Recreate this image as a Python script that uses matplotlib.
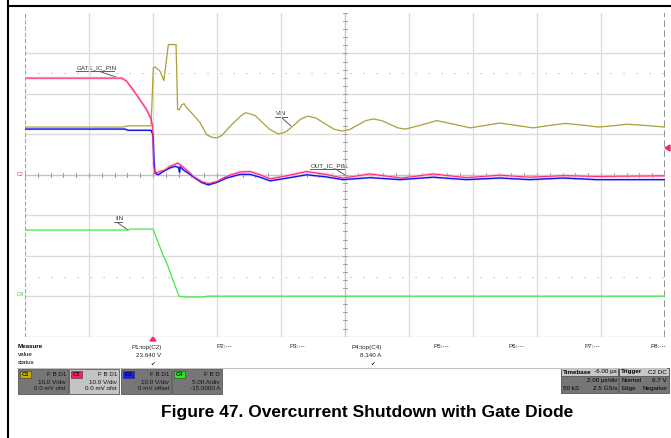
import numpy as np
import matplotlib.pyplot as plt
from matplotlib.patches import Rectangle, Polygon

plt.rcParams['font.family'] = ['Liberation Sans', 'DejaVu Sans']

# time in microseconds, trigger at t = 0 (2 us/div, 10 div)
t_vin = [-4.0, -0.94, -0.78, -0.06, 0.01, 0.06, 0.22, 0.34, 0.48, 0.72, 0.77, 0.82, 0.90, 0.97,
         1.05, 1.25, 1.47, 1.68, 1.83, 1.99, 2.15, 2.41, 2.72, 2.88, 3.03, 3.2, 3.41, 3.65, 3.92,
         4.15, 4.38, 4.62, 4.85, 5.1, 5.38, 5.65, 5.90, 6.15, 6.4, 6.65, 6.88, 7.15, 7.4, 7.65,
         7.88, 8.38, 8.87, 9.4, 9.91, 10.38, 10.84, 11.36, 11.88, 12.38, 12.88, 13.4, 13.92,
         14.36, 14.80, 15.4, 16.0]
vin = [11.8, 11.8, 12.1, 12.1, 26.4, 26.7, 25.6, 23.3, 32.2, 32.2, 16.1, 16.1, 17.3, 17.6,
       16.6, 14.9, 12.9, 9.9, 9.3, 9.1, 9.7, 12.0, 14.4, 15.3, 15.1, 14.6, 13.0, 11.2, 10.1,
       10.6, 12.1, 13.8, 14.5, 14.0, 12.6, 11.3, 10.8, 11.2, 12.3, 13.4, 13.8, 13.4, 12.5, 11.6,
       11.3, 12.3, 13.4, 12.5, 11.6, 12.2, 12.8, 12.2, 11.6, 12.2, 12.7, 12.3, 11.8,
       12.1, 12.5, 12.2, 11.8]

t_gate = [-4.0, -0.97, -0.82, -0.62, -0.41, -0.20, -0.06, -0.01, 0.02, 0.06, 0.22, 0.38, 0.53,
          0.69, 0.77, 0.90, 1.05, 1.26, 1.52, 1.73, 1.99, 2.30, 2.72, 3.03, 3.35, 3.66, 4.2, 4.80,
          5.4, 5.94, 6.78, 7.77, 8.75, 9.80, 10.84, 11.78, 12.81, 13.87, 16.0]
gate = [23.9, 23.9, 23.1, 21.0, 18.6, 16.1, 13.8, 12.0, 2.5, 0.4, 0.8, 1.2, 2.1,
        2.6, 2.9, 2.2, 1.2, -0.4, -1.7, -2.2, -1.7, -0.4, 0.7, 0.8, 0.0, -1.0, -0.2, 0.8,
        0.1, -0.8, 0.2, -0.8, 0.2, -0.7, -0.1, -0.6, -0.2, -0.4, -0.25]

t_out = [-4.0, -0.88, -0.78, -0.06, 0.0, 0.03, 0.06, 0.16, 0.32, 0.53, 0.69, 0.80, 0.83, 0.85,
         0.95, 1.10, 1.31, 1.52, 1.73, 1.99, 2.30, 2.72, 3.03, 3.35, 3.66, 4.2, 4.80, 5.4, 5.94,
         6.78, 7.72, 8.75, 9.80, 10.84, 11.78, 12.81, 13.87, 16.0]
vout = [11.3, 11.3, 11.0, 11.0, 9.9, 3.7, 0.4, 0.0, 0.8, 1.7, 2.1, 1.8, 0.6, 2.0,
        1.2, 0.4, -0.8, -1.9, -2.5, -1.9, -0.8, 0.1, 0.1, -0.6, -1.5, -0.8, 0.0, -0.5, -1.2,
        -0.7, -1.2, -0.6, -1.2, -0.8, -1.2, -0.8, -1.2, -1.2]

t_iin = [-4.0, -0.78, -0.72, 0.0, 0.32, 0.42, 0.81, 1.0, 1.6, 1.7, 16.0]
iin = [8.17, 8.17, 8.29, 8.29, 5.0, 4.2, 0.0, -0.1, -0.1, 0.0, 0.0]

# channel settings: scale per div and offset
scale = {'C1': 10.0, 'C2': 10.0, 'C3': 10.0, 'C4': 5.0}
offset = {'C1': 0.0, 'C2': 0.0, 'C3': 0.0, 'C4': -15.0}


def to_div(vals, ch):
    return (np.array(vals) + offset[ch]) / scale[ch]


W, H = 671, 438
fig = plt.figure(figsize=(W / 100, H / 100), dpi=100)

# overlay in pixel coordinates for the frame and scope panels
ov = fig.add_axes([0, 0, 1, 1])
ov.set_xlim(0, W)
ov.set_ylim(H, 0)
ov.axis('off')

ax = fig.add_axes([25 / W, 1 - 337 / H, 640 / W, 324 / H])
ax.set_xlim(-4, 16)
ax.set_ylim(-4.01, 4.0)
ax.axis('off')

# grid
for k in range(1, 10):
    ax.axvline(-4 + 2 * k, color='#c4c4c4' if k == 5 else '#dcdcdc', lw=1, zorder=1)
for k in range(-3, 4):
    ax.axhline(k, color='#c4c4c4' if k == 0 else '#dcdcdc', lw=1, zorder=1)
ax.axhline(-4.0, color='#cfcfcf', lw=1, zorder=1)
ax.axvline(-4, color='#a0a0a0', lw=1.5, ls=(0, (2, 1)), zorder=1)
ax.axvline(16, color='#808080', lw=1.2, ls=(0, (4, 2)), zorder=1)
for yv in (2.52, -2.52):
    ax.plot([-3.6, 16], [yv, yv], color='#b0b0b0', lw=0.8, ls=(0, (1, 10.7)), zorder=1)
for xv in np.arange(-4, 16.01, 0.4):
    ax.plot([xv, xv], [-0.05, 0.05], color='#a0a0a0', lw=0.7, zorder=1)
for yv in np.arange(-4, 4.01, 0.2):
    ax.plot([5.94, 6.06], [yv, yv], color='#a0a0a0', lw=0.7, zorder=1)

# traces
ax.plot(t_gate, to_div(gate, 'C2'), color='#ffb4d0', lw=1.8, zorder=2)
ax.plot(t_out, to_div(vout, 'C3'), color='#b4b4ff', lw=1.5, zorder=2)
ax.plot(t_vin, to_div(vin, 'C1'), color='#aaa038', lw=0.9, zorder=3)
ax.plot(t_gate, to_div(gate, 'C2'), color='#ff2070', lw=0.7, zorder=4)
ax.plot(t_out, to_div(vout, 'C3'), color='#1010ee', lw=0.9, zorder=3)
ax.plot(t_iin, to_div(iin, 'C4'), color='#44e844', lw=0.9, zorder=3)

# frame of the document figure
ov.plot([8, 8], [0, H], color='black', lw=1.5)
ov.plot([8, W], [6, 6], color='black', lw=1.5)

# trace labels with leader lines
labels = [('GATE_IC_PIN', 77, 70, 114, (101, 72), (122, 79)),
          ('VIN', 276, 116, 287, (282, 118), (291, 126)),
          ('OUT_IC_PIN', 311, 168, 345, (337, 170), (350, 178)),
          ('IIN', 115, 221, 122, (118, 223), (128, 230))]
for txt, x0, y0, x1, p0, p1 in labels:
    ov.text(x0, y0, txt, fontsize=4.5, color='#333333', va='bottom', ha='left', zorder=6)
    ov.plot([x0 - 1, x1], [y0 + 1, y0 + 1], color='#444444', lw=0.6, zorder=6)
    ov.plot([p0[0], p1[0]], [p0[1], p1[1]], color='#444444', lw=0.6, zorder=6)

# channel ground markers and trigger markers
ov.text(24, 175, 'C2', fontsize=4, color='#ff2070', ha='right', va='center')
ov.text(24, 295, 'C4', fontsize=4, color='#30d030', ha='right', va='center')
ov.add_patch(Polygon([(665, 148), (670, 145), (670, 151)], color='#ff2070', zorder=6))
ov.add_patch(Polygon([(150, 341), (156, 341), (153, 337)], color='#ff2070', zorder=6))

# measurement table
fs = 4.5
ov.text(18, 347, 'Measure', fontsize=fs, fontweight='bold', va='center')
ov.text(18, 355, 'value', fontsize=fs, va='center')
ov.text(18, 363, 'status', fontsize=fs, va='center')
params = ['P1:top(C2)', 'P2:---', 'P3:---', 'P4:top(C4)', 'P5:---', 'P6:---', 'P7:---', 'P8:---']
values = ['23.640 V', '', '', '8.140 A', '', '', '', '']
param_x = [162, 232, 305, 382, 449, 524, 600, 666]
for p, v, px in zip(params, values, param_x):
    ov.text(px, 347, p, fontsize=fs, ha='right', va='center', color='#222222')
    if v:
        ov.text(px - 1, 355.5, v, fontsize=fs, ha='right', va='center', color='#222222')
        ov.text(px - 9, 364, '\u2714', fontsize=4, ha='center', va='center',
                family='DejaVu Sans', color='#222222')
ov.plot([17, 666], [368, 368], color='#c0c0c0', lw=0.8)

# channel boxes
channels = ['C1', 'C2', 'C3', 'C4']
tag_colors = ['#c8b400', '#ff1a6a', '#1a1aff', '#22ee22']
flags = ['F B D1', 'F B D1', 'F B D1', 'F B D']
vdiv_txt = ['10.0 V/div', '10.0 V/div', '10.0 V/div', '5.00 A/div']
ofs_txt = ['0.0 mV ofst', '0.0 mV ofst', '0 mV offset', '-15.0000 A']
box_x = [18, 69, 121, 172]
for ch, col, fl, vd, of, bx in zip(channels, tag_colors, flags, vdiv_txt, ofs_txt, box_x):
    face = '#c4c4c4' if ch == 'C2' else '#767676'
    ov.add_patch(Rectangle((bx, 369), 50, 24.5, facecolor=face, edgecolor='#555555', lw=0.6))
    ov.add_patch(Rectangle((bx + 2, 370.5), 11, 7, facecolor=col, edgecolor='#333333', lw=0.4))
    ov.text(bx + 7.5, 374, ch, fontsize=4.2, fontweight='bold', ha='center', va='center',
            color='#111111')
    ov.text(bx + 48, 374, fl, fontsize=fs, ha='right', va='center', color='#111111')
    ov.text(bx + 48, 382, vd, fontsize=fs, ha='right', va='center', color='#111111')
    ov.text(bx + 48, 389, of, fontsize=fs, ha='right', va='center', color='#111111')

# timebase and trigger boxes
for bx, bw in ((561, 57), (619, 50)):
    ov.add_patch(Rectangle((bx, 368), bw, 25, facecolor='#767676', edgecolor='#555555', lw=0.6))
    ov.add_patch(Rectangle((bx, 368), bw, 8, facecolor='#c8c8c8', edgecolor='#555555', lw=0.6))
ov.text(563, 372, 'Timebase', fontsize=fs, fontweight='bold', va='center')
ov.text(617, 372, '-6.00 \u00b5s', fontsize=fs, ha='right', va='center')
ov.text(617, 380.5, '2.00 \u00b5s/div', fontsize=fs, ha='right', va='center')
ov.text(563, 388.5, '50 kS', fontsize=fs, va='center')
ov.text(617, 388.5, '2.5 GS/s', fontsize=fs, ha='right', va='center')
ov.text(621, 372, 'Trigger', fontsize=fs, fontweight='bold', va='center')
ov.text(667, 372, 'C2 DC', fontsize=fs, ha='right', va='center')
ov.text(621, 380.5, 'Normal', fontsize=fs, va='center')
ov.text(667, 380.5, '6.7 V', fontsize=fs, ha='right', va='center')
ov.text(621, 388.5, 'Edge', fontsize=fs, va='center')
ov.text(667, 388.5, 'Negative', fontsize=fs, ha='right', va='center')

ov.text(367, 412, 'Figure 47. Overcurrent Shutdown with Gate Diode', fontsize=12.5,
        fontweight='bold', ha='center', va='center')

fig.savefig('out.png', dpi=100)
